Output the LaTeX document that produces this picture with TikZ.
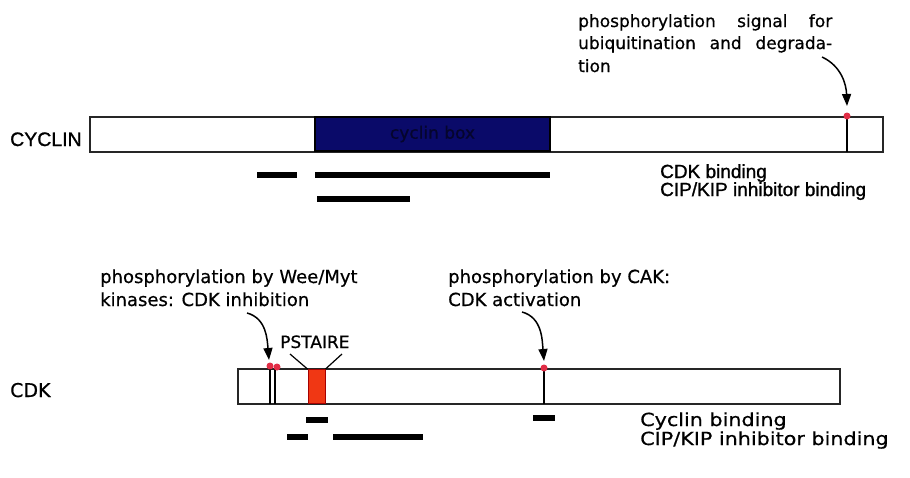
\documentclass[tikz,border=0pt]{standalone}
\usepackage{fontspec}
\setmainfont[FakeBold=0.6]{DejaVu Sans}
\newfontfamily\arialf[FakeBold=1.2]{Liberation Sans}
\newfontfamily\widef[FakeStretch=1.15,FakeBold=0.6]{DejaVu Sans}
\usetikzlibrary{arrows.meta}
\definecolor{navybox}{RGB}{10,10,105}
\definecolor{navytxt}{RGB}{5,5,45}
\definecolor{pdotc}{RGB}{225,45,70}
\definecolor{pstc}{RGB}{240,55,20}
\begin{document}
\begin{tikzpicture}[x=1pt,y=-1pt,
  protbar/.style={draw=black!85, line width=1.4pt, fill=white},
  seg/.style={line width=6pt, black},
  siteline/.style={line width=1.3pt, black},
  pdot/.style={circle, fill=pdotc, inner sep=0pt, minimum size=7pt},
  callout/.style={-{Triangle[length=12pt,width=9pt]}, line width=1.5pt},
  txt/.style={anchor=base west, inner sep=0pt},
  tsmall/.style={txt, font=\fontsize{17}{20}\selectfont},
  tmed/.style={txt, font=\fontsize{18}{22}\selectfont},
  tarial/.style={txt, font=\arialf\fontsize{19}{22}\selectfont},
  twide/.style={txt, font=\widef\fontsize{18}{22}\selectfont}]
\useasboundingbox (0,0) rectangle (910,477);
\fill[white] (0,0) rectangle (910,477);

% ---------------- CYCLIN ----------------
\node[txt, font=\arialf\fontsize{19.5}{22}\selectfont] (cyclab) at (10,146) {CYCLIN};
\draw[protbar] (90,117) rectangle (883,152);
\node[draw=black, line width=1.2pt, fill=navybox, minimum width=235pt, minimum height=34pt, inner sep=0pt,
      text=navytxt, font=\fontsize{17}{18}\selectfont] (cycbox) at (432.5,134) {cyclin box};
\coordinate (cycp) at (847,116);
\coordinate (cycpb) at (847,152);
\draw[siteline] (cycp) -- (cycpb);
\node[pdot] (cycdot) at (cycp) {};

\node[tsmall] (tr1) at (578,27) {\makebox[254pt][s]{phosphorylation signal for}};
\node[tsmall] (tr2) at (578,49) {\makebox[254pt][s]{ubiquitination and degrada-}};
\node[tsmall] (tr3) at (578,72) {tion};
\coordinate (trs) at (822,57);
\coordinate (trt) at (847,106);
\draw[callout] (trs) to[out=-25,in=92] (trt);

\draw[seg] (257,175) coordinate (c1a) -- (297,175) coordinate (c1b);
\draw[seg] (315,175) coordinate (c2a) -- (550,175) coordinate (c2b);
\draw[seg] (317,199) coordinate (c3a) -- (410,199) coordinate (c3b);

\node[tarial] (cdkb) at (660,178) {CDK binding};
\node[tarial] (cipa) at (660,196) {CIP/KIP inhibitor binding};

% ---------------- CDK ----------------
\node[txt, font=\fontsize{19}{22}\selectfont] (cdklab) at (10,397) {CDK};
\draw[protbar] (238,369) rectangle (840,404);
\node[draw=red!65!black, line width=0.8pt, fill=pstc, minimum width=17pt, minimum height=34pt, inner sep=0pt] (pst) at (316.5,386.5) {};
\coordinate (w1t) at (270,366);
\coordinate (w1b) at (270,404);
\coordinate (w2t) at (275,366);
\coordinate (w2b) at (275,404);
\draw[siteline] (w1t) -- (w1b);
\draw[siteline] (w2t) -- (w2b);
\node[pdot] (wdot1) at (270,366) {};
\node[pdot] (wdot2) at (277,367) {};

\node[tmed] (wl1) at (100,283) {phosphorylation by Wee/Myt};
\node[tmed] (wl2) at (100,306) {kinases: CDK inhibition};
\coordinate (ws) at (247,313);
\coordinate (wt) at (269,360);
\draw[callout] (ws) to[out=-15,in=95] (wt);

\node[txt, font=\fontsize{17}{20}\selectfont] (pstlab) at (280,348) {PSTAIRE};
\coordinate (pl1) at (290,354);
\coordinate (pl2) at (342,354);
\draw[line width=1.2pt] (pl1) -- (pst.north west);
\draw[line width=1.2pt] (pl2) -- (pst.north east);

\node[tmed] (cak1) at (448,283) {phosphorylation by CAK:};
\node[tmed] (cak2) at (448,306) {CDK activation};
\coordinate (cs) at (522,312);
\coordinate (ct) at (544,361);
\draw[callout] (cs) to[out=-15,in=95] (ct);
\coordinate (cakp) at (544,368);
\coordinate (cakb) at (544,404);
\draw[siteline] (cakp) -- (cakb);
\node[pdot] (cakdot) at (cakp) {};

\draw[seg] (306,420) coordinate (d1a) -- (328,420) coordinate (d1b);
\draw[seg] (287,437) coordinate (d2a) -- (308,437) coordinate (d2b);
\draw[seg] (333,437) coordinate (d3a) -- (423,437) coordinate (d3b);
\draw[seg] (533,418) coordinate (d4a) -- (555,418) coordinate (d4b);

\node[twide] (cycb) at (640,426) {Cyclin binding};
\node[twide] (cipb) at (640,445) {CIP/KIP inhibitor binding};
\end{tikzpicture}
\end{document}
